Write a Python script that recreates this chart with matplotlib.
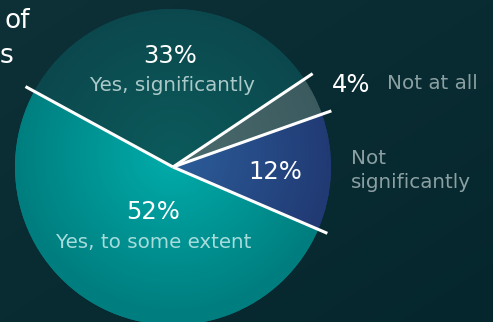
import numpy as np
import matplotlib.pyplot as plt
from matplotlib.colors import LinearSegmentedColormap

# slice data, clockwise from the upper-left divider
labels = ["Yes, significantly", "Not at all", "Not significantly", "Yes, to some extent"]
values = [33, 4, 12, 52]
pct_text = ["33%", "4%", "12%", "52%"]
# inner (near centre) and outer (rim) colours of each slice
inner_cols = ["#0b5a5b", "#4b6b6d", "#2c5e9a", "#00adab"]
outer_cols = ["#0b474d", "#3a5a5f", "#213a74", "#007e7f"]

W, H = 493, 322
cx, cy, r = 173, H - 167, 158

fig = plt.figure(figsize=(W / 100, H / 100), dpi=100)
ax = fig.add_axes([0, 0, 1, 1])

wedges, _ = ax.pie(values, startangle=151.4, counterclock=False,
                   center=(cx, cy), radius=r,
                   wedgeprops=dict(linewidth=0))
ax.set_xlim(0, W)
ax.set_ylim(0, H)
ax.set_aspect("auto")
ax.axis("off")

# background gradient
yy, xx = np.mgrid[0:H, 0:W]
t = np.clip((xx / W * 0.5 + (H - yy) / H * 0.5), 0, 1)
bg = LinearSegmentedColormap.from_list("bg", ["#0d3137", "#05262d"])
ax.imshow(bg(t), extent=(0, W, H, 0), zorder=0, aspect="auto")

# radial gradient inside each slice
dist = np.sqrt((xx - cx) ** 2 + (yy - (H - cy)) ** 2) / r
dist = np.clip(dist, 0, 1)
for w, c0, c1 in zip(wedges, inner_cols, outer_cols):
    w.set_facecolor(c1)
    w.set_zorder(1)
    cm = LinearSegmentedColormap.from_list("g", [c0, c1])
    im = ax.imshow(cm(dist), extent=(0, W, H, 0), zorder=2, aspect="auto")
    im.set_clip_path(w)

# white divider lines, extending slightly past the rim
total = sum(values)
ang = 151.4
for v in values:
    a = np.deg2rad(ang)
    ax.plot([cx, cx + 168 * np.cos(a)], [cy, cy + 168 * np.sin(a)],
            color="white", lw=2.2, solid_capstyle="butt", zorder=3)
    ang -= v / total * 360

font = "DejaVu Sans"
big = dict(color="white", fontsize=17.5, family=font,
           ha="center", va="baseline", zorder=4)
small = dict(fontsize=14.3, family=font, ha="center", va="baseline", zorder=4)
side = "#8ba0a3"

ax.text(170, H - 63, pct_text[0], **big)
ax.text(172, H - 91, labels[0], color="#abc9c9", **small)
ax.text(153, H - 219, pct_text[3], **big)
ax.text(154, H - 248, labels[3], color="#a6dcdc", **small)
ax.text(275.5, H - 179, pct_text[2], **big)
ax.text(332, H - 92, pct_text[1], **{**big, "ha": "left"})
ax.text(387, H - 89, labels[1], color=side, **{**small, "ha": "left"})
ax.text(351, H - 164, "Not", color=side, **{**small, "ha": "left"})
ax.text(351, H - 188, "significantly", color=side, **{**small, "ha": "left"})

# cut-off title fragment
ax.text(5, H - 28, "of", color="white", fontsize=19, family=font,
        ha="left", va="baseline", zorder=4)
ax.text(0, H - 63, "s", color="white", fontsize=19, family=font,
        ha="left", va="baseline", zorder=4)

fig.savefig("out.png", dpi=100)
